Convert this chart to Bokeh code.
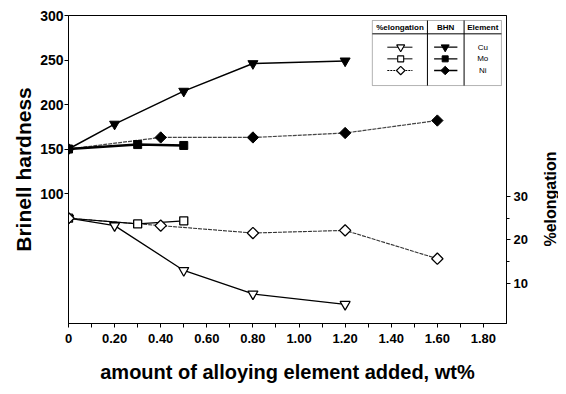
import math
from bokeh.plotting import figure
from bokeh.layouts import row
from bokeh.models import Range1d, LinearAxis, FixedTicker, BoxAnnotation
from bokeh.embed import file_html
from bokeh.resources import INLINE
from bokeh.core.properties import value

# ---- data ----
x_cu = [0, 0.2, 0.5, 0.8, 1.2]
bhn_cu = [150, 178, 215, 246, 249]
el_cu = [25, 23.3, 13, 7.6, 5.2]

x_mo = [0, 0.3, 0.5]
bhn_mo = [150, 155, 154]
el_mo = [25, 23.7, 24.4]

x_ni = [0, 0.4, 0.8, 1.2, 1.6]
bhn_ni = [150, 163, 163, 168, 182]
el_ni = [25, 23.3, 21.6, 22.2, 15.7]

x_ticks = [0, 0.2, 0.4, 0.6, 0.8, 1.0, 1.2, 1.4, 1.6, 1.8]
x_tick_labels = ["0", "0.20", "0.40", "0.60", "0.80", "1.00", "1.20", "1.40", "1.60", "1.80"]
x_minor = [0.1, 0.3, 0.5, 0.7, 0.9, 1.1, 1.3, 1.5, 1.7]
bhn_ticks = [100, 150, 200, 250, 300]
el_ticks = [10, 20, 30]
el_minor = [15, 25]

elements = ["Cu", "Mo", "Ni"]
legend_headers = ["%elongation", "BHN", "Element"]
right_title = "%elongation"

FONT = "Liberation Sans"

p = figure(width=530, height=386, output_backend="svg", toolbar_location=None,
           x_range=Range1d(0, 1.9), y_range=Range1d(-46, 300),
           min_border_left=68, min_border_right=23, min_border_top=15,
           min_border_bottom=63)
p.xgrid.visible = False
p.ygrid.visible = False
p.outline_line_color = "black"
p.outline_line_width = 1
p.background_fill_color = "white"
p.border_fill_color = "white"

# x axis
xa = p.xaxis[0]
xa.ticker = FixedTicker(ticks=x_ticks, minor_ticks=x_minor)
xa.major_label_overrides = dict(zip(x_ticks, x_tick_labels))
xa.axis_label = "amount of alloying element added, wt%"

# left axis
ya = p.yaxis[0]
ya.ticker = FixedTicker(ticks=bhn_ticks, minor_ticks=[])
ya.axis_label = "Brinell hardness"

# right axis (its title sits in a narrow side panel so it can read bottom-to-top, low on the side)
p.extra_y_ranges = {"el": Range1d(0.8, 71.6)}
ra = LinearAxis(y_range_name="el", ticker=FixedTicker(ticks=el_ticks, minor_ticks=el_minor))
p.add_layout(ra, "right")

for ax, lsize in ((xa, "13px"), (ya, "14px"), (ra, "13px")):
    ax.axis_line_color = "black"
    ax.major_tick_line_color = "black"
    ax.minor_tick_line_color = "black"
    ax.major_tick_in = 0
    ax.major_tick_out = 4
    ax.minor_tick_in = 0
    ax.minor_tick_out = 3
    ax.major_label_text_font = FONT
    ax.major_label_text_font_style = "bold"
    ax.major_label_text_font_size = lsize
    ax.major_label_text_color = "black"
    ax.axis_label_text_font = FONT
    ax.axis_label_text_font_style = "bold"
    ax.axis_label_text_color = "black"
xa.minor_tick_out = 4
xa.major_label_standoff = 6
xa.axis_label_text_font_size = "20px"
xa.axis_label_standoff = 15
ya.major_label_standoff = 1
ya.axis_label_text_font_size = "21px"
ya.axis_label_standoff = 2
ra.major_label_standoff = 3

# ---- BHN series (left axis) ----
p.line(x_cu, bhn_cu, line_color="black", line_width=1.5)
p.line(x_ni, bhn_ni, line_color="#444444", line_width=1.2, line_dash="4 1")
p.line(x_mo, bhn_mo, line_color="black", line_width=2.5)
p.scatter(x_cu, bhn_cu, marker="inverted_triangle", size=10, fill_color="black", line_color="black")
p.scatter(x_mo, bhn_mo, marker="square", size=8, fill_color="black", line_color="black")
p.scatter(x_ni, bhn_ni, marker="square", angle=math.pi / 4, size=8, fill_color="black", line_color="black")

# ---- elongation series (right axis) ----
p.line(x_cu, el_cu, y_range_name="el", line_color="black", line_width=1.3)
p.line(x_ni, el_ni, y_range_name="el", line_color="#333333", line_width=1.1, line_dash="4 1")
p.line(x_mo, el_mo, y_range_name="el", line_color="black", line_width=1.1)
p.scatter(x_cu, el_cu, y_range_name="el", marker="inverted_triangle", size=10,
          fill_color="white", line_color="black", line_width=1.3)
p.scatter(x_mo, el_mo, y_range_name="el", marker="square", size=8,
          fill_color="white", line_color="black", line_width=1.3)
p.scatter(x_ni, el_ni, y_range_name="el", marker="square", angle=math.pi / 4, size=8,
          fill_color="white", line_color="black", line_width=1.3)

# ---- table-style legend (data coordinates of x / left axis) ----
lx0, lx1 = 1.318, 1.878
ly0, ly1 = 221.3, 294.4
div1, div2 = 1.557, 1.716
hline = 279.4
p.add_layout(BoxAnnotation(left=lx0, right=lx1, bottom=ly0, top=ly1, fill_color="white",
                           fill_alpha=1, line_color="black", line_width=1, level="underlay"))
p.segment(x0=[div1, div2, lx0], y0=[ly0, ly0, hline], x1=[div1, div2, lx1], y1=[ly1, ly1, hline],
          line_color="black", line_width=1)
col_x = [1.438, 1.636, 1.797]
p.text(x=col_x, y=[286.2] * 3, text=legend_headers, text_font=value(FONT), text_font_style="bold",
       text_font_size="8px", text_align="center", text_baseline="middle", text_color="black")
row_y = [264.4, 251.3, 238.2]
markers = ["inverted_triangle", "square", "square"]
angles = [0, 0, math.pi / 4]
msizes = [8, 6, 6]
dashes = ["solid", "solid", "2 1"]
for ry, mk, ang, ms, ds in zip(row_y, markers, angles, msizes, dashes):
    p.line([1.383, 1.492], [ry, ry], line_color="black", line_width=1, line_dash=ds)
    p.scatter([1.441], [ry], marker=mk, angle=ang, size=ms, fill_color="white",
              line_color="black", line_width=1.1)
    p.line([1.586, 1.687], [ry, ry], line_color="black", line_width=1.3)
    p.scatter([1.634], [ry], marker=mk, angle=ang, size=ms, fill_color="black", line_color="black")
p.text(x=[1.797] * 3, y=row_y, text=elements, text_font=value(FONT), text_font_size="8px",
       text_align="center", text_baseline="middle", text_color="black")

# ---- narrow side panel holding the right-axis title ----
side = figure(width=28, height=386, output_backend="svg", toolbar_location=None,
              x_range=Range1d(0, 28), y_range=Range1d(386, 0),
              x_axis_type=None, y_axis_type=None,
              min_border_left=0, min_border_right=0, min_border_top=0, min_border_bottom=0)
side.outline_line_color = None
side.background_fill_color = "white"
side.border_fill_color = "white"
side.text(x=[20], y=[230], text=[right_title], angle=math.pi / 2, text_font=value(FONT),
          text_font_style="bold", text_font_size="16px", text_align="center",
          text_baseline="middle", text_color="black")

layout = row(p, side, spacing=0)
open("out.html", "w").write(file_html(layout, INLINE))
